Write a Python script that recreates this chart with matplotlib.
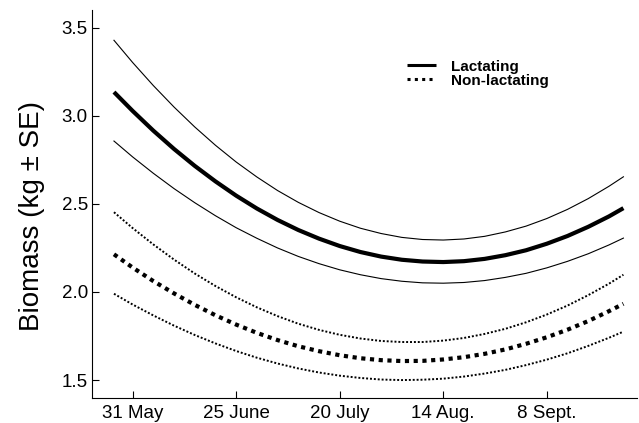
import matplotlib
matplotlib.use("Agg")
import matplotlib.pyplot as plt
from matplotlib.lines import Line2D

plt.rcParams['font.family'] = ['Liberation Sans', 'DejaVu Sans']

# days after 31 May
days = [-4.5, 0, 5, 10, 15, 20, 25, 30, 35, 40, 45, 50, 55, 60, 65,
        70, 75, 80, 85, 90, 95, 100, 105, 110, 115, 118.5]

lact_mean = [3.135, 3.028, 2.916, 2.812, 2.716, 2.628, 2.547, 2.474, 2.409, 2.352, 2.303, 2.261, 2.227,
             2.201, 2.183, 2.173, 2.170, 2.175, 2.188, 2.209, 2.237, 2.274, 2.318, 2.370, 2.429, 2.476]
lact_upper = [3.429, 3.303, 3.172, 3.050, 2.937, 2.833, 2.738, 2.653, 2.576, 2.509, 2.451, 2.402, 2.362,
              2.332, 2.310, 2.298, 2.295, 2.301, 2.316, 2.341, 2.374, 2.417, 2.469, 2.530, 2.600, 2.654]
lact_lower = [2.857, 2.767, 2.674, 2.587, 2.507, 2.433, 2.365, 2.305, 2.250, 2.202, 2.161, 2.126, 2.098,
              2.076, 2.061, 2.052, 2.050, 2.054, 2.065, 2.083, 2.106, 2.137, 2.174, 2.217, 2.267, 2.306]

nonl_mean = [2.214, 2.139, 2.062, 1.992, 1.927, 1.868, 1.815, 1.768, 1.727, 1.692, 1.664, 1.641, 1.624,
             1.613, 1.608, 1.609, 1.617, 1.630, 1.649, 1.674, 1.706, 1.743, 1.786, 1.835, 1.891, 1.933]
nonl_upper = [2.453, 2.363, 2.270, 2.184, 2.105, 2.034, 1.970, 1.913, 1.863, 1.820, 1.785, 1.757, 1.736,
              1.722, 1.716, 1.716, 1.724, 1.739, 1.762, 1.791, 1.828, 1.872, 1.923, 1.982, 2.047, 2.098]
nonl_lower = [1.990, 1.929, 1.867, 1.809, 1.756, 1.708, 1.665, 1.627, 1.594, 1.566, 1.543, 1.525, 1.512,
              1.503, 1.500, 1.502, 1.508, 1.520, 1.537, 1.558, 1.585, 1.616, 1.652, 1.694, 1.740, 1.775]

tick_days = [0, 25, 50, 75, 100]
tick_labels = ['31 May', '25 June', '20 July', '14 Aug.', '8 Sept.']

fig = plt.figure(figsize=(6.39, 4.23), dpi=100)
ax = fig.add_axes([0.144, 0.059, 0.853, 0.917])

ax.plot(days, lact_mean, color='black', lw=3.0, solid_capstyle='butt')
ax.plot(days, lact_upper, color='black', lw=0.8)
ax.plot(days, lact_lower, color='black', lw=0.8)

ax.plot(days, nonl_mean, color='black', lw=3.0, linestyle=(0, (1, 1.1)), dash_capstyle='butt')
ax.plot(days, nonl_upper, color='black', lw=1.4, linestyle=(0, (1, 1)), dash_capstyle='butt')
ax.plot(days, nonl_lower, color='black', lw=1.4, linestyle=(0, (1, 1)), dash_capstyle='butt')

ax.set_xlim(-9.8, 121.8)
ax.set_ylim(1.398, 3.60)
ax.set_yticks([1.5, 2.0, 2.5, 3.0, 3.5])
ax.set_yticklabels(['1.5', '2.0', '2.5', '3.0', '3.5'])
ax.set_xticks(tick_days)
ax.set_xticklabels(tick_labels)
ax.tick_params(direction='in', length=5, width=0.8, labelsize=13.5, pad=3)
ax.tick_params(axis='x', pad=5)
ax.spines['top'].set_visible(False)
ax.spines['right'].set_visible(False)
ax.set_ylabel('Biomass (kg \u00b1 SE)', fontsize=20)
ax.yaxis.set_label_coords(-0.086, 0.469)

handles = [Line2D([], [], color='black', lw=2.2, solid_capstyle='butt'),
           Line2D([], [], color='black', lw=2.2, linestyle=(0, (1, 1.4)), dash_capstyle='butt')]
leg = ax.legend(handles, ['Lactating', 'Non-lactating'], loc='upper left',
                bbox_to_anchor=(0.578, 0.872), frameon=False, borderpad=0,
                borderaxespad=0, handlelength=1.9, handletextpad=1.0,
                labelspacing=0.0, prop={'weight': 'bold', 'size': 11})

fig.savefig('out.png', dpi=100)
